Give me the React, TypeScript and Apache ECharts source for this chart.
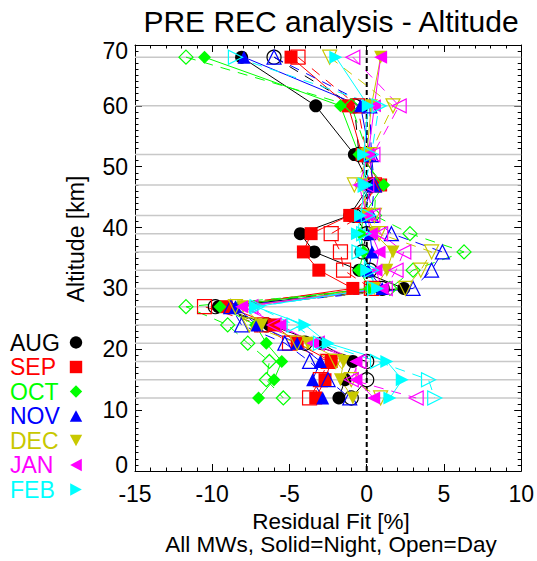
import React, { useEffect, useRef } from "react";
import * as echarts from "echarts";

const FONT = "'Liberation Sans', Arial, Helvetica, sans-serif";

// Retrieval altitudes [km]
const ALTITUDES = [68, 60, 52, 47, 42, 39, 36, 33, 30, 27, 24, 21, 18, 15, 12];

// Residual fit [%]  (Night = solid, Day = open)
const augNight = [-8.1, -3.3, -0.8, 0.2, -1.1, -4.3, -3.4, -0.5, 2.4, -9.6, -6.3, -3.0, -0.9, -1.4, -1.8];
const augDay = [-6.0, -0.8, -0.5, 0.3, -0.8, 0.0, -0.3, 0.2, 1.0, -9.8, -6.5, -4.0, 0.0, 0.0, -1.0];
const sepNight = [-4.9, -1.2, -0.3, 0.9, -1.1, -3.6, -4.1, -3.1, -0.9, -9.1, -6.0, -4.5, -2.3, -2.7, -3.3];
const sepDay = [-4.45, -0.6, 0.0, 0.5, -0.3, -2.3, -1.7, -1.5, 0.3, -10.5, -6.8, -5.0, -2.5, -3.0, -3.7];
const octNight = [-10.5, -1.7, -0.5, 1.1, -0.2, -0.4, -0.2, -0.5, 0.2, -9.5, -7.2, -6.5, -5.5, -6.0, -7.0];
const octDay = [-11.7, -1.0, 0.1, 0.6, 0.5, 2.8, 6.3, 3.0, 1.5, -11.7, -9.0, -7.7, -6.3, -6.5, -5.4];
const novNight = [-7.95, -0.4, 0.2, 0.4, -0.3, 0.2, 0.35, 0.1, 1.0, -8.5, -7.1, -4.5, -3.0, -3.5, -2.85];
const novDay = [-6.0, 0.2, 0.3, 0.5, 0.3, 1.6, 4.9, 4.2, 3.0, -8.8, -8.1, -5.3, -3.7, -2.5, -1.1];
const decNight = [0.9, 0.3, 0.0, -0.3, 0.0, 0.5, 1.7, 1.3, 0.5, -8.0, -6.8, -3.8, -1.5, -1.7, -0.9];
const decDay = [-2.4, 1.7, 0.2, -0.8, 0.5, 0.8, 4.2, 3.5, 2.5, -8.5, -7.6, -4.5, -2.0, -1.0, 0.9];
const janNight = [0.9, 0.5, 0.1, -0.5, 0.0, 0.3, 0.8, 0.6, 1.0, -8.1, -5.6, -3.5, -0.7, -0.7, 0.45];
const janDay = [-0.9, 2.1, 0.4, 0.0, 0.4, 0.9, 2.4, 1.9, 1.2, -7.5, -6.0, -3.2, -0.5, -1.0, 3.2];
const febNight = [-2.0, 0.1, -0.2, -0.1, -0.4, -0.6, -0.3, 0.0, 0.7, -7.2, -4.0, -2.5, 1.3, 2.3, 1.5];
const febDay = [-8.5, 0.8, 0.3, -0.1, 0.1, -0.2, -0.5, 0.3, 0.5, -7.1, -4.7, -3.0, 0.7, 4.0, 4.4];

const MONTHS = ["AUG", "SEP", "OCT", "NOV", "DEC", "JAN", "FEB"];
const COLORS = ["#000000", "#ff0000", "#00ff00", "#0000ff", "#c8c800", "#ff00ff", "#00ffff"];
const SYMBOLS = ["circle", "rect", "diamond", "triangle", "triangle", "triangle", "triangle"];
const ROTATIONS = [0, 0, 0, 0, 180, 90, -90];
const NIGHT = [augNight, sepNight, octNight, novNight, decNight, janNight, febNight];
const DAY = [augDay, sepDay, octDay, novDay, decDay, janDay, febDay];

const X_MIN = -15;
const X_MAX = 10;
const Y_MIN = 0;
const Y_MAX = 70;

function legendShape(i: number, cx: number, cy: number, color: string): any {
  const s = 6.2;
  const h = 5.8;
  const style = { fill: color };
  switch (i) {
    case 0:
      return { type: "circle", shape: { cx, cy, r: s }, style };
    case 1:
      return { type: "rect", shape: { x: cx - s, y: cy - s, width: 2 * s, height: 2 * s }, style };
    case 2:
      return { type: "polygon", shape: { points: [[cx, cy - s], [cx + s, cy], [cx, cy + s], [cx - s, cy]] }, style };
    case 3:
      return { type: "polygon", shape: { points: [[cx, cy - h], [cx + s, cy + h], [cx - s, cy + h]] }, style };
    case 4:
      return { type: "polygon", shape: { points: [[cx - s, cy - h], [cx + s, cy - h], [cx, cy + h]] }, style };
    case 5:
      return { type: "polygon", shape: { points: [[cx - h, cy], [cx + h, cy - s], [cx + h, cy + s]] }, style };
    default:
      return { type: "polygon", shape: { points: [[cx + h, cy], [cx - h, cy - s], [cx - h, cy + s]] }, style };
  }
}

export default function App() {
  const ref = useRef<HTMLDivElement>(null);

  useEffect(() => {
    if (!ref.current) return;
    const chart = echarts.init(ref.current, null, { renderer: "svg" });

    const series: any[] = [];
    // horizontal altitude reference lines
    ALTITUDES.forEach((a) => {
      series.push({
        type: "line",
        data: [[X_MIN, a], [X_MAX, a]],
        symbol: "none",
        silent: true,
        z: 1,
        lineStyle: { color: "#c8c8c8", width: 1.5 },
      });
    });
    // zero line
    series.push({
      type: "line",
      data: [[0, Y_MIN], [0, Y_MAX]],
      symbol: "none",
      silent: true,
      z: 2,
      lineStyle: { color: "#000", width: 2, type: [5, 3] },
    });

    MONTHS.forEach((m, i) => {
      const color = COLORS[i];
      series.push({
        name: m + " night",
        type: "line",
        z: 3,
        data: ALTITUDES.map((a, k) => [NIGHT[i][k], a]),
        symbol: SYMBOLS[i],
        symbolRotate: ROTATIONS[i],
        symbolSize: 13,
        showAllSymbol: true,
        lineStyle: { color, width: 1, type: "solid" },
        itemStyle: { color, borderWidth: 0 },
      });
      series.push({
        name: m + " day",
        type: "line",
        z: 3,
        data: ALTITUDES.map((a, k) => [DAY[i][k], a]),
        symbol: SYMBOLS[i],
        symbolRotate: ROTATIONS[i],
        symbolSize: 14,
        showAllSymbol: true,
        lineStyle: { color, width: 1, type: [10, 8] },
        itemStyle: { color: "rgba(0,0,0,0)", borderColor: color, borderWidth: 1.2 },
      });
    });

    const axisCommon = {
      axisLine: { show: true, onZero: false, lineStyle: { color: "#000", width: 1 } },
      splitLine: { show: false },
      minorSplitLine: { show: false },
    };
    const labelStyle = { fontSize: 23, fontFamily: FONT, color: "#000" };

    const graphic: any[] = [
      {
        type: "text",
        x: 331,
        y: 21,
        style: { text: "PRE REC analysis - Altitude", font: `30px ${FONT}`, fill: "#000", textAlign: "center", textVerticalAlign: "middle" },
      },
      {
        type: "text",
        x: 76,
        y: 239,
        rotation: Math.PI / 2,
        style: { text: "Altitude [km]", font: `23px ${FONT}`, fill: "#000", textAlign: "center", textVerticalAlign: "middle" },
      },
      {
        type: "text",
        x: 331,
        y: 521,
        style: { text: "Residual Fit [%]", font: `22.5px ${FONT}`, lineHeight: 22, fill: "#000", textAlign: "center", textVerticalAlign: "middle" },
      },
      {
        type: "text",
        x: 331,
        y: 544,
        style: { text: "All MWs, Solid=Night, Open=Day", font: `22.5px ${FONT}`, lineHeight: 22, fill: "#000", textAlign: "center", textVerticalAlign: "middle" },
      },
    ];
    MONTHS.forEach((m, i) => {
      const cy = 342.5 + i * 24.5;
      graphic.push({
        type: "text",
        x: 10,
        y: cy,
        style: { text: m, font: `23px ${FONT}`, fill: COLORS[i], textAlign: "left", textVerticalAlign: "middle" },
      });
      graphic.push(legendShape(i, 76, cy, COLORS[i]));
    });

    chart.setOption({
      animation: false,
      backgroundColor: "#fff",
      grid: { left: 135, top: 45, width: 391, height: 426, containLabel: false },
      xAxis: [
        {
          type: "value",
          min: X_MIN,
          max: X_MAX,
          interval: 5,
          position: "bottom",
          ...axisCommon,
          axisTick: { show: true, inside: true, length: 7, lineStyle: { color: "#000" } },
          minorTick: { show: true, splitNumber: 5, length: 3.5, lineStyle: { color: "#000" } },
          axisLabel: { ...labelStyle, margin: 11 },
        },
        {
          type: "value",
          min: X_MIN,
          max: X_MAX,
          interval: 5,
          position: "top",
          ...axisCommon,
          axisTick: { show: true, inside: true, length: 7, lineStyle: { color: "#000" } },
          minorTick: { show: true, splitNumber: 5, length: 3.5, lineStyle: { color: "#000" } },
          axisLabel: { show: false },
        },
      ],
      yAxis: [
        {
          type: "value",
          min: Y_MIN,
          max: Y_MAX,
          interval: 10,
          position: "left",
          ...axisCommon,
          axisTick: { show: true, inside: true, length: 7, lineStyle: { color: "#000" } },
          minorTick: { show: true, splitNumber: 10, length: 3.5, lineStyle: { color: "#000" } },
          axisLabel: {
            ...labelStyle,
            margin: 7,
            formatter: (v: number) => (v === Y_MIN ? "{lo|" + v + "}" : v === Y_MAX ? "{hi|" + v + "}" : String(v)),
            rich: {
              lo: { ...labelStyle, padding: [0, 0, 12, 0] },
              hi: { ...labelStyle, padding: [12, 0, 0, 0] },
            },
          },
        },
        {
          type: "value",
          min: Y_MIN,
          max: Y_MAX,
          interval: 10,
          position: "right",
          ...axisCommon,
          axisTick: { show: true, inside: true, length: 7, lineStyle: { color: "#000" } },
          minorTick: { show: true, splitNumber: 10, length: 3.5, lineStyle: { color: "#000" } },
          axisLabel: { show: false },
        },
      ],
      series,
      graphic,
    });

    return () => chart.dispose();
  }, []);

  return (
    <div
      ref={ref}
      style={{ position: "fixed", left: 0, top: 0, width: 537, height: 561, background: "#fff" }}
    />
  );
}
